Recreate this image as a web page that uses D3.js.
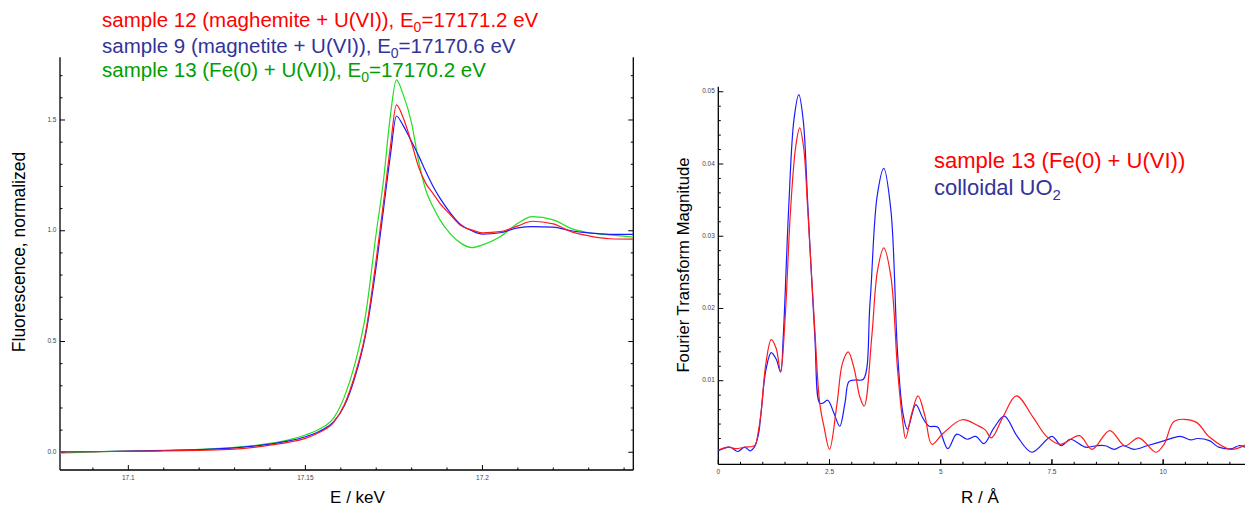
<!DOCTYPE html>
<html><head><meta charset="utf-8">
<script src="https://cdn.jsdelivr.net/npm/d3@7"></script>
<style>
html,body{margin:0;padding:0;background:#fff;}
svg{display:block;font-family:"Liberation Sans",Arial,sans-serif;}
</style></head>
<body><svg id="c" width="1245" height="508"></svg>
<script>
// ---------- Data: XANES (left) ----------
const energyKeV = [17.080,17.090,17.100,17.110,17.120,17.130,17.140,17.145,17.150,17.154,17.158,17.161,17.164,17.167,17.170,17.172,17.174,17.1757,17.1775,17.180,17.182,17.184,17.186,17.188,17.191,17.194,17.197,17.200,17.205,17.210,17.214,17.220,17.225,17.230,17.236,17.2426];
const sample12 = [0.002,0.003,0.004,0.006,0.009,0.014,0.032,0.045,0.063,0.090,0.135,0.215,0.350,0.540,0.870,1.120,1.380,1.568,1.515,1.395,1.287,1.214,1.169,1.124,1.071,1.022,1.004,0.991,0.996,1.022,1.043,1.031,0.996,0.977,0.964,0.962];
const sample9  = [0.002,0.003,0.005,0.008,0.012,0.020,0.037,0.050,0.070,0.095,0.138,0.210,0.340,0.530,0.840,1.090,1.340,1.518,1.478,1.402,1.338,1.267,1.202,1.147,1.079,1.026,1.000,0.985,0.991,1.013,1.019,1.016,1.000,0.990,0.984,0.984];
const sample13 = [-0.004,0.002,0.005,0.009,0.013,0.022,0.040,0.055,0.078,0.105,0.155,0.250,0.400,0.620,0.990,1.220,1.520,1.681,1.620,1.485,1.312,1.184,1.109,1.049,0.985,0.943,0.924,0.936,0.973,1.034,1.064,1.049,1.011,0.991,0.981,0.971];
const xanesLegend = [
  {name:"sample 12 (maghemite + U(VI)), E", sub:"0", rest:"=17171.2 eV"},
  {name:"sample 9 (magnetite + U(VI)), E", sub:"0", rest:"=17170.6 eV"},
  {name:"sample 13 (Fe(0) + U(VI)), E", sub:"0", rest:"=17170.2 eV"}
];
const xanesXTicks = [17.1, 17.15, 17.2];
const xanesXTickLabels = ["17.1", "17.15", "17.2"];
const xanesYTicks = [0.0, 0.5, 1.0, 1.5];
const xanesYTickLabels = ["0.0", "0.5", "1.0", "1.5"];

// ---------- Data: Fourier transform (right) ----------
const rSample13 = [0.00,0.22,0.38,0.61,0.76,0.83,0.90,0.96,1.07,1.19,1.30,1.40,1.50,1.62,1.74,1.83,1.92,2.01,2.17,2.28,2.38,2.50,2.67,2.79,2.92,3.06,3.18,3.28,3.45,3.58,3.72,3.88,4.03,4.15,4.21,4.35,4.49,4.65,4.80,5.05,5.48,5.83,6.00,6.14,6.40,6.70,7.07,7.38,7.69,8.12,8.40,8.80,9.14,9.45,9.84,10.03,10.25,10.73,11.04,11.51,11.84];
const ftSample13 = [0.0004,0.0008,0.0006,0.0008,0.0009,0.0011,0.0030,0.0055,0.0124,0.0157,0.0145,0.0113,0.0184,0.0332,0.0424,0.0450,0.0422,0.0337,0.0170,0.0069,0.0035,0.0005,0.0069,0.0124,0.0140,0.0115,0.0078,0.0065,0.0161,0.0253,0.0284,0.0244,0.0115,0.0041,0.0020,0.0055,0.0079,0.0050,0.0012,0.0027,0.0046,0.0038,0.0032,0.0021,0.0050,0.0079,0.0050,0.0023,0.0012,0.0024,0.0005,0.0031,0.0010,0.0021,0.0001,0.0013,0.0044,0.0043,0.0022,0.0005,0.0011];
const rUO2 = [0.00,0.26,0.44,0.59,0.72,0.81,0.90,0.96,1.07,1.19,1.30,1.40,1.46,1.58,1.70,1.81,1.91,2.01,2.17,2.28,2.35,2.46,2.60,2.73,2.85,2.94,3.10,3.26,3.41,3.57,3.72,3.88,4.03,4.15,4.25,4.44,4.60,4.74,4.93,5.16,5.36,5.59,5.79,5.97,6.20,6.43,6.72,7.05,7.50,7.71,7.91,8.26,8.50,8.70,8.90,9.10,9.35,9.64,10.03,10.38,10.62,10.77,11.04,11.25,11.55,11.70,11.84];
const ftUO2 = [0.0003,0.0008,0.0002,0.0008,0.0003,0.0008,0.0025,0.0055,0.0115,0.0139,0.0130,0.0112,0.0161,0.0336,0.0461,0.0496,0.0460,0.0346,0.0161,0.0069,0.0069,0.0073,0.0055,0.0037,0.0070,0.0099,0.0101,0.0102,0.0207,0.0355,0.0394,0.0336,0.0138,0.0055,0.0033,0.0067,0.0048,0.0037,0.0036,0.0006,0.0026,0.0019,0.0023,0.0013,0.0035,0.0051,0.0023,0.0001,0.0023,0.0010,0.0019,0.0008,0.0010,0.0010,0.0005,0.0010,0.0005,0.0010,0.0017,0.0023,0.0018,0.0020,0.0017,0.0008,0.0006,0.0010,0.0008];
const ftLegend = [
  {name:"sample 13 (Fe(0) + U(VI))", sub:"", rest:""},
  {name:"colloidal UO", sub:"2", rest:""}
];
const ftXTicks = [0, 2.5, 5, 7.5, 10];
const ftXTickLabels = ["0", "2.5", "5", "7.5", "10"];
const ftYTicks = [0.01, 0.02, 0.03, 0.04, 0.05];
const ftYTickLabels = ["0.01", "0.02", "0.03", "0.04", "0.05"];

// ---------- Drawing ----------
const svg = d3.select("#c");
const FONT_TICK = 6.5, TICK_COL = "#444";

function frame(g, x, y, opts) {
  const [x0, x1] = x.range(), [y0, y1] = y.range();
  opts.xMinor.forEach(v => g.append("line").attr("x1", x(v)).attr("x2", x(v)).attr("y1", y0).attr("y2", y0 - (opts.xTicks.some(t => Math.abs(t - v) < 1e-9) ? 5 : 2.5)).attr("stroke", "#000").attr("stroke-width", 1));
  opts.yMinor.forEach(v => {
    const major = opts.yTicks.some(t => Math.abs(t - v) < 1e-9);
    const L = major ? 5 : 2.5;
    g.append("line").attr("x1", x0).attr("x2", x0 + L).attr("y1", y(v)).attr("y2", y(v)).attr("stroke", "#000").attr("stroke-width", 1);
    if (opts.rightAxis) g.append("line").attr("x1", x1).attr("x2", x1 - L).attr("y1", y(v)).attr("y2", y(v)).attr("stroke", "#000").attr("stroke-width", 1);
  });
  g.append("line").attr("x1", x0).attr("x2", x0).attr("y1", y0).attr("y2", y1).attr("stroke", "#000").attr("stroke-width", 1.3);
  g.append("line").attr("x1", x0).attr("x2", x1).attr("y1", y0).attr("y2", y0).attr("stroke", "#000").attr("stroke-width", 1.3);
  if (opts.rightAxis) g.append("line").attr("x1", x1).attr("x2", x1).attr("y1", y0).attr("y2", y1).attr("stroke", "#000").attr("stroke-width", 1.3);
  opts.xTicks.forEach((v, i) => g.append("text").attr("x", x(v)).attr("y", y0 + opts.xLabelDy).attr("text-anchor", "middle").attr("dominant-baseline", "middle").attr("font-size", FONT_TICK).attr("fill", TICK_COL).text(opts.xLabels[i]));
  opts.yTicks.forEach((v, i) => g.append("text").attr("x", x0 - 3.5).attr("y", y(v)).attr("text-anchor", "end").attr("dominant-baseline", "middle").attr("font-size", FONT_TICK).attr("fill", TICK_COL).text(opts.yLabels[i]));
}
function range(a, b, s) { const out = []; for (let v = a; v <= b + 1e-9; v += s) out.push(+v.toFixed(6)); return out; }

// ---- Left: XANES ----
const xL = d3.scaleLinear().domain([17.0807, 17.2426]).range([60, 633.3]);
const yL = d3.scaleLinear().domain([-0.080, 1.783]).range([470, 57.3]);
const gL = svg.append("g");
gL.append("clipPath").attr("id", "clipL").append("rect").attr("x", 60).attr("y", 57).attr("width", 573.3).attr("height", 413);
frame(gL, xL, yL, {
  xTicks: xanesXTicks, xLabels: xanesXTickLabels, xMinor: range(17.09, 17.24, 0.01),
  yTicks: xanesYTicks, yLabels: xanesYTickLabels, yMinor: range(0, 1.7, 0.1),
  rightAxis: true, xLabelDy: 8.5
});
const lineL = d3.line().x((d, i) => xL(energyKeV[i])).y(d => yL(d)).curve(d3.curveMonotoneX);
const xanesSeries = [
  {vals: sample13, color: "#22dd22"},
  {vals: sample9, color: "#1a1aff"},
  {vals: sample12, color: "#ff1a1a"}
];
xanesSeries.forEach(s => gL.append("path").attr("d", lineL(s.vals)).attr("fill", "none").attr("stroke", s.color).attr("stroke-width", 1.2).attr("clip-path", "url(#clipL)"));

const legColorsL = ["#ff0000", "#333399", "#009e00"];
const legBaseL = [27, 53, 77];
xanesLegend.forEach((d, i) => {
  const t = gL.append("text").attr("x", 102).attr("y", legBaseL[i]).attr("font-size", 20.5).attr("fill", legColorsL[i]);
  t.append("tspan").text(d.name);
  t.append("tspan").attr("font-size", 14).attr("dy", 5).text(d.sub);
  t.append("tspan").attr("dy", -5).text(d.rest);
});
gL.append("text").attr("x", 357.5).attr("y", 503).attr("text-anchor", "middle").attr("font-size", 17).text("E / keV");
gL.append("text").attr("transform", "translate(24.5,252) rotate(-90)").attr("text-anchor", "middle").attr("font-size", 17.5).text("Fluorescence, normalized");

// ---- Right: FT ----
const xR = d3.scaleLinear().domain([0, 11.84]).range([718.3, 1245]);
const yR = d3.scaleLinear().domain([-0.00157, 0.0507]).range([464.3, 86.7]);
const gR = svg.append("g");
gR.append("clipPath").attr("id", "clipR").append("rect").attr("x", 718.3).attr("y", 86).attr("width", 527).attr("height", 378.3);
frame(gR, xR, yR, {
  xTicks: ftXTicks, xLabels: ftXTickLabels, xMinor: range(0.5, 11.5, 0.5).concat([0, 2.5, 5, 7.5, 10]),
  yTicks: ftYTicks, yLabels: ftYTickLabels, yMinor: range(0.002, 0.05, 0.002),
  rightAxis: false, xLabelDy: 7.5
});
const lineR = (rs) => d3.line().x((d, i) => xR(rs[i])).y(d => yR(d)).curve(d3.curveCatmullRom.alpha(0.5));
gR.append("path").attr("d", lineR(rUO2)(ftUO2)).attr("fill", "none").attr("stroke", "#1a1aff").attr("stroke-width", 1.2).attr("clip-path", "url(#clipR)");
gR.append("path").attr("d", lineR(rSample13)(ftSample13)).attr("fill", "none").attr("stroke", "#ff1a1a").attr("stroke-width", 1.2).attr("clip-path", "url(#clipR)");

const legColorsR = ["#ff0000", "#333399"];
const legBaseR = [168, 195];
ftLegend.forEach((d, i) => {
  const t = gR.append("text").attr("x", 934).attr("y", legBaseR[i]).attr("font-size", 22).attr("fill", legColorsR[i]);
  t.append("tspan").text(d.name);
  if (d.sub) t.append("tspan").attr("font-size", 15).attr("dy", 5).text(d.sub);
});
gR.append("text").attr("x", 980).attr("y", 503).attr("text-anchor", "middle").attr("font-size", 17).text("R / Å");
gR.append("text").attr("transform", "translate(689.3,265) rotate(-90)").attr("text-anchor", "middle").attr("font-size", 16.7).text("Fourier Transform Magnitude");
</script></body></html>
